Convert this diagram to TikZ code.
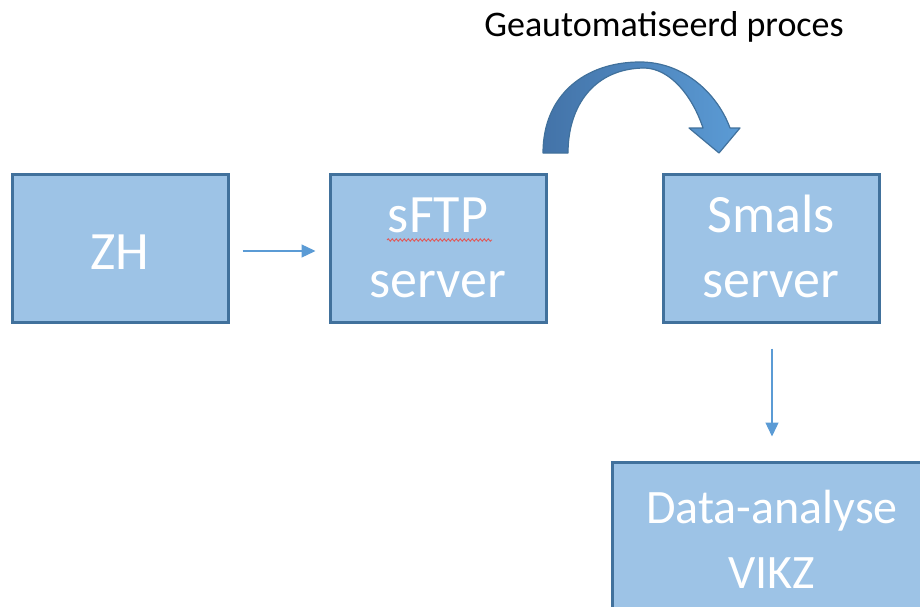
\documentclass[tikz,border=0pt]{standalone}
\usepackage{fontspec}
\setmainfont{Carlito}
\usetikzlibrary{arrows.meta,decorations.pathmorphing}
\definecolor{boxfill}{HTML}{9DC3E6}
\definecolor{boxline}{HTML}{41719C}
\definecolor{arrowblue}{HTML}{5B9BD5}
\definecolor{curvedark}{HTML}{4373A8}
\definecolor{spellred}{HTML}{E05A5A}
\tikzset{
  box/.style={draw=boxline, fill=boxfill, line width=3pt, rectangle, inner sep=0pt},
  boxtxt/.style={text=white, font=\fontsize{54}{65}\selectfont, align=center, inner sep=0pt, anchor=base},
  conn/.style={draw=arrowblue, line width=1.3pt, -{Triangle[length=14pt,width=13pt]}},
  curvearrow/.style={left color=curvedark, right color=arrowblue, draw=boxline, line width=1.2pt, line join=round},
}
\begin{document}
\begin{tikzpicture}[x=1pt,y=-1pt]
\useasboundingbox (0,0) rectangle (920,607);
\begin{scope}
\clip (0,0) rectangle (920,607);
% boxes
\node[box, minimum width=216pt, minimum height=148pt] (zh) at (120,248) {};
\node[box, minimum width=216pt, minimum height=148pt] (sftp) at (438,248) {};
\node[box, minimum width=216pt, minimum height=148pt] (smals) at (771,248) {};
\node[box, minimum width=320pt, minimum height=160pt] (data) at (772,542) {};
% texts (base anchor = baseline of last line)
\node[boxtxt] (zht) at (120,269) {ZH};
\node[boxtxt] (sftpt) at (438,297) {sFTP\\server};
\node[boxtxt] (smalst) at (771,297) {Smals\\server};
\node[boxtxt, font=\fontsize{48}{65}\selectfont] (datat) at (772,588) {Data-analyse\\VIKZ};
\end{scope}
% spell-check squiggle
\draw[spellred, line width=0.9pt, decorate, decoration={snake, segment length=4pt, amplitude=1.2pt}] (387,240) -- (492,240);
% title
\node[font=\fontsize{36}{44}\selectfont, anchor=base, inner sep=0pt] (title) at (664,37) {Geautomatiseerd proces};
% connectors
\draw[conn, shorten <=13pt, shorten >=13pt] ([yshift=-3pt]zh.east) -- ([yshift=-3pt]sftp.west);
\draw[conn, shorten <=25pt, shorten >=24pt] ([xshift=1pt]smals.south) -- (data.north);
% curved arrow
\path[curvearrow] (543,153) .. controls (543,95) and (585,62) .. (640,62)
  .. controls (685,62) and (718,95) .. (730,128)
  -- (740,128) -- (719,153) -- (689,128) -- (703,128)
  .. controls (692,95) and (670,69) .. (645,68)
  .. controls (595,68) and (568,105) .. (568,153) -- cycle;
\end{tikzpicture}
\end{document}
